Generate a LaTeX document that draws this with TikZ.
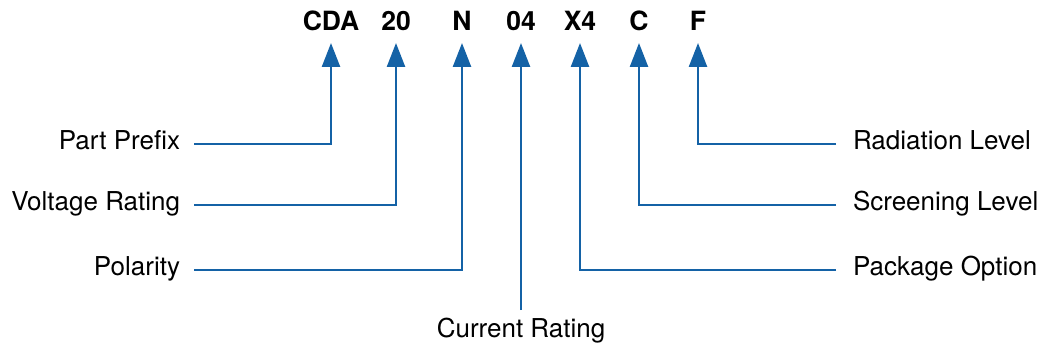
\documentclass[tikz,border=0pt]{standalone}
\usepackage{fontspec}
\setmainfont{TeX Gyre Heros}
\usetikzlibrary{arrows.meta}
\definecolor{leadblue}{RGB}{20,98,166}

\begin{document}
\begin{tikzpicture}[x=1pt,y=-1pt,
        code/.style={font=\fontsize{26.5}{31}\selectfont\bfseries, inner sep=0pt, text depth=0pt, outer ysep=12pt, anchor=base},
        field/.style={font=\fontsize{26}{31}\selectfont, inner sep=0pt, text height=19pt, text depth=8pt},
        lead/.style={draw=leadblue, line width=2.5pt, -{Triangle[width=18pt,length=24pt]}}]
        \useasboundingbox (0,0) rectangle (1047,350);

        \node[code] (CDA) at (331,31) {CDA};
        \node[code] (V20) at (396,31) {20};
        \node[code] (N) at (462,31) {N};
        \node[code] (C04) at (521,31) {04};
        \node[code] (X4) at (580,31) {X4};
        \node[code] (C) at (639,31) {C};
        \node[code] (F) at (698,31) {F};

        \node[field, anchor=east, outer xsep=14pt] (Prefix) at (194,144) {Part Prefix};
        \node[field, anchor=east, outer xsep=14pt] (Voltage) at (194,205) {Voltage Rating};
        \node[field, anchor=east, outer xsep=14pt] (Polarity) at (194,270) {Polarity};
        \node[field, anchor=base, outer ysep=8pt] (Current) at (521,337) {Current Rating};
        \node[field, anchor=west, outer xsep=17pt] (Package) at (836,270) {Package Option};
        \node[field, anchor=west, outer xsep=17pt] (Screening) at (836,205) {Screening Level};
        \node[field, anchor=west, outer xsep=17pt] (Radiation) at (836,144) {Radiation Level};

        \draw[lead] (Prefix.east) -| (CDA.south);
        \draw[lead] (Voltage.east) -| (V20.south);
        \draw[lead] (Polarity.east) -| (N.south);
        \draw[lead] (Current.north) -- (C04.south);
        \draw[lead] (Package.west) -| (X4.south);
        \draw[lead] (Screening.west) -| (C.south);
        \draw[lead] (Radiation.west) -| (F.south);
    \end{tikzpicture}
\end{document}
